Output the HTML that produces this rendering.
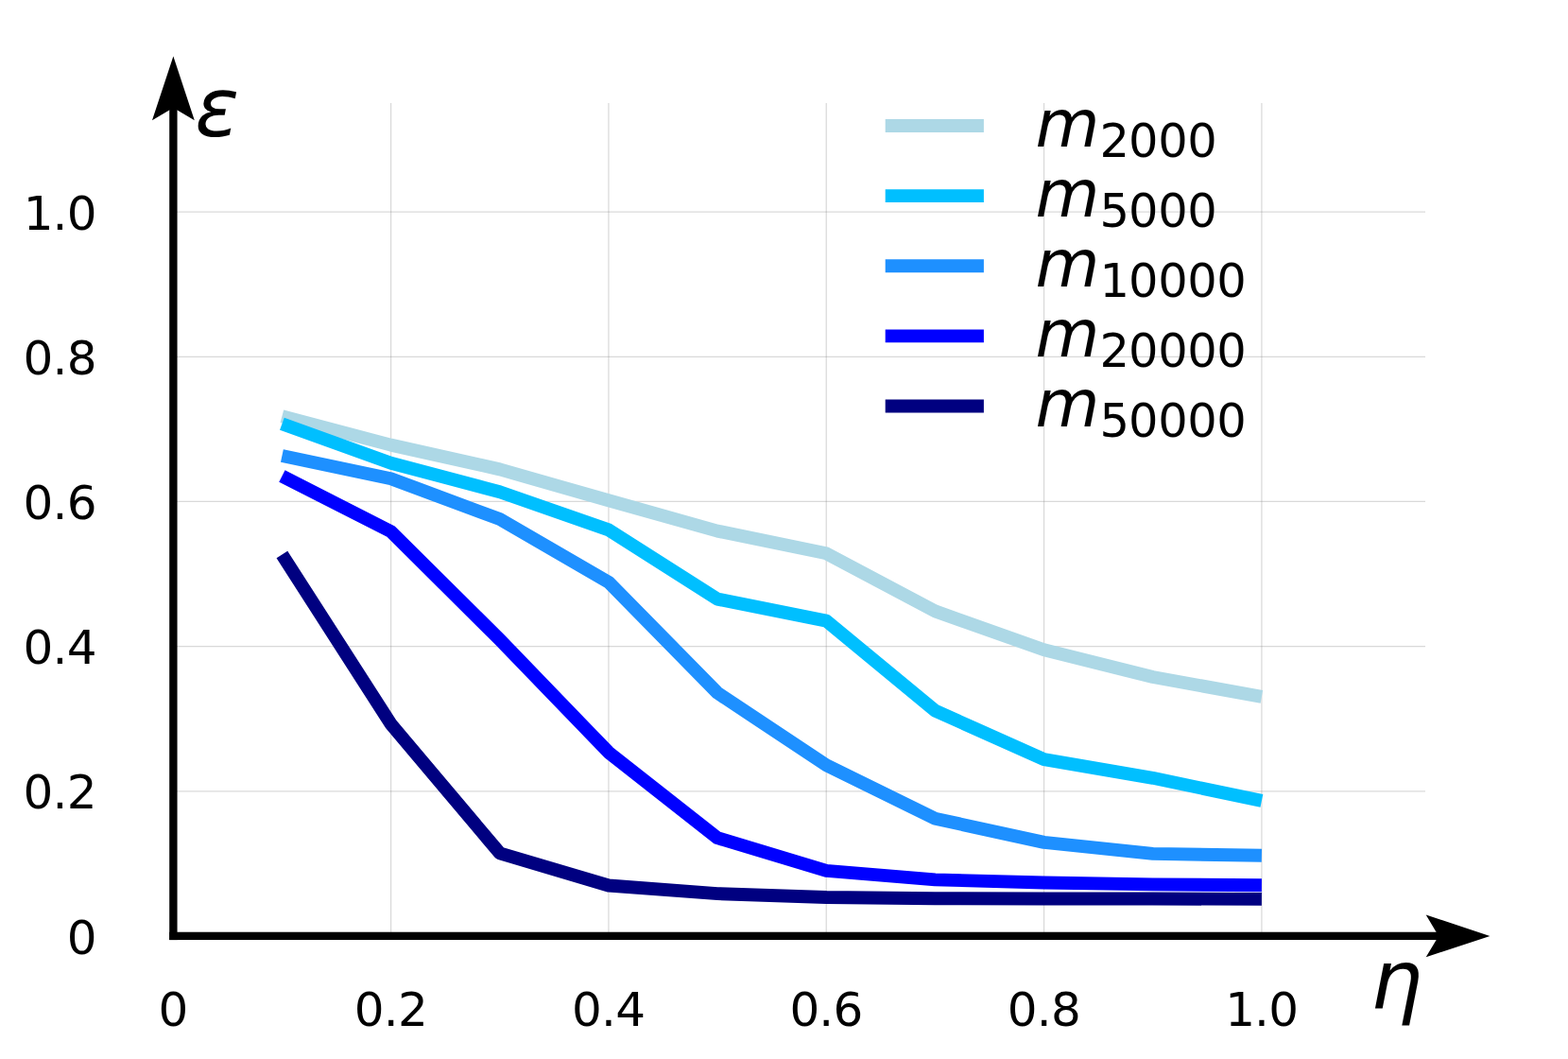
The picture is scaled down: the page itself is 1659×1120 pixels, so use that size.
<!DOCTYPE html>
<html lang="en"><head><meta charset="utf-8"><title>epsilon vs eta</title>
<style>
html,body{margin:0;padding:0;background:#fff;}
body{width:1659px;height:1120px;overflow:hidden;}
svg{display:block;}
text{font-family:"DejaVu Sans","Liberation Sans",sans-serif;fill:#000;}
.t{font-size:50px;}
.m{font-size:69.7px;font-style:italic;}
.s{font-size:49.5px;}
.ax{font-size:86.7px;font-style:italic;}
</style></head><body>
<svg width="1659" height="1120" viewBox="0 0 1659 1120">
<rect width="1659" height="1120" fill="#fff"/>
<g stroke="#808080" stroke-opacity="0.3" stroke-width="1.25" fill="none">
<line x1="413.60" y1="109.00" x2="413.60" y2="989.90"/>
<line x1="643.93" y1="109.00" x2="643.93" y2="989.90"/>
<line x1="874.25" y1="109.00" x2="874.25" y2="989.90"/>
<line x1="1104.58" y1="109.00" x2="1104.58" y2="989.90"/>
<line x1="1334.90" y1="109.00" x2="1334.90" y2="989.90"/>
<line x1="183.28" y1="836.76" x2="1508.00" y2="836.76"/>
<line x1="183.28" y1="683.62" x2="1508.00" y2="683.62"/>
<line x1="183.28" y1="530.48" x2="1508.00" y2="530.48"/>
<line x1="183.28" y1="377.34" x2="1508.00" y2="377.34"/>
<line x1="183.28" y1="224.20" x2="1508.00" y2="224.20"/>
</g>
<g fill="none" stroke-width="13.9" stroke-linejoin="round" stroke-linecap="butt">
<polyline stroke="#add8e6" points="298.4,440.2 413.6,470.6 528.8,496.4 643.9,529.3 759.1,561.6 874.3,585.3 989.4,646.4 1104.6,687.3 1219.7,716.0 1334.9,736.8"/>
<polyline stroke="#00bfff" points="298.4,448.2 413.6,489.7 528.8,520.3 643.9,560.4 759.1,633.6 874.3,656.6 989.4,751.6 1104.6,803.2 1219.7,822.8 1334.9,846.9"/>
<polyline stroke="#1e90ff" points="298.4,482.0 413.6,506.2 528.8,549.1 643.9,615.7 759.1,732.8 874.3,809.3 989.4,865.7 1104.6,890.9 1219.7,902.9 1334.9,904.8"/>
<polyline stroke="#0000ff" points="298.4,503.5 413.6,562.1 528.8,676.5 643.9,795.7 759.1,886.2 874.3,920.9 989.4,930.4 1104.6,933.5 1219.7,935.4 1334.9,936.2"/>
<polyline stroke="#000080" points="298.4,586.4 413.6,765.8 528.8,902.3 643.9,936.5 759.1,945.1 874.3,949.0 989.4,950.2 1104.6,950.5 1219.7,950.5 1334.9,950.9"/>
</g>
<g stroke-width="13.9" fill="none">
<line x1="936.7" y1="133.00" x2="1040.9" y2="133.00" stroke="#add8e6"/>
<line x1="936.7" y1="207.12" x2="1040.9" y2="207.12" stroke="#00bfff"/>
<line x1="936.7" y1="281.25" x2="1040.9" y2="281.25" stroke="#1e90ff"/>
<line x1="936.7" y1="355.38" x2="1040.9" y2="355.38" stroke="#0000ff"/>
<line x1="936.7" y1="429.50" x2="1040.9" y2="429.50" stroke="#000080"/>
</g>
<g fill="#000" stroke="none">
<rect x="179.22" y="100.00" width="8.33" height="894.06"/>
<rect x="179.22" y="985.74" width="1350.79" height="8.33"/>
<polygon points="183.38,59.60 205.78,127.30 183.38,113.90 160.98,127.30"/>
<polygon points="1576.40,989.90 1508.70,1012.30 1522.10,989.90 1508.70,967.50"/>
</g>
<text class="m" transform="translate(1095.60,155.00) rotate(0.03)" x="0.00" y="0">m</text>
<text class="s" x="1163.58 1193.94 1225.21 1256.23" y="166">2000</text>
<text class="m" transform="translate(1095.60,229.00) rotate(0.03)" x="0.00" y="0">m</text>
<text class="s" x="1163.58 1193.94 1225.21 1256.23" y="240">5000</text>
<text class="m" transform="translate(1095.60,303.00) rotate(0.03)" x="0.00" y="0">m</text>
<text class="s" x="1163.58 1193.94 1225.21 1256.23 1287.27" y="314">10000</text>
<text class="m" transform="translate(1095.60,377.00) rotate(0.03)" x="0.00" y="0">m</text>
<text class="s" x="1163.58 1193.94 1225.21 1256.23 1287.27" y="388">20000</text>
<text class="m" transform="translate(1095.60,451.00) rotate(0.03)" x="0.00" y="0">m</text>
<text class="s" x="1163.58 1193.94 1225.21 1256.23 1287.27" y="462">50000</text>
<text class="t" x="24.75 55.45 70.75" y="243">1.0</text>
<text class="t" x="24.55 55.45 70.75" y="396">0.8</text>
<text class="t" x="24.55 55.45 70.75" y="549">0.6</text>
<text class="t" x="24.55 55.45 70.75" y="702">0.4</text>
<text class="t" x="24.55 55.45 70.75" y="855">0.2</text>
<text class="t" x="70.75" y="1009">0</text>
<text class="t" x="167.43" y="1085">0</text>
<text class="t" x="374.75 405.65 420.95" y="1085">0.2</text>
<text class="t" x="605.08 635.98 651.28" y="1085">0.4</text>
<text class="t" x="835.40 866.30 881.60" y="1085">0.6</text>
<text class="t" x="1065.73 1096.63 1111.93" y="1085">0.8</text>
<text class="t" x="1296.25 1326.95 1342.25" y="1085">1.0</text>
<text class="ax" transform="translate(206.25,143.80) rotate(0.03)" x="0.00" y="0">ε</text>
<text class="ax" transform="translate(1450.10,1066.40) rotate(0.03)" x="0.00" y="0">η</text>
</svg>
</body></html>
